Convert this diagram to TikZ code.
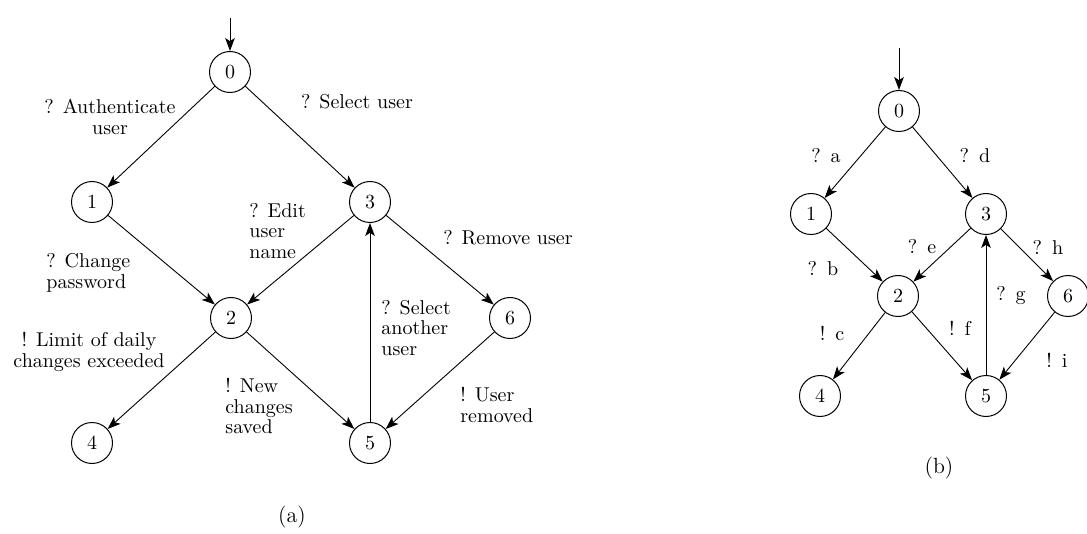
\documentclass[tikz,border=0pt]{standalone}
\usetikzlibrary{arrows.meta}
\tikzset{
  st/.style={circle,draw,line width=0.5pt,minimum size=20.5pt,inner sep=0pt,font=\fontsize{10}{12}\selectfont},
  tr/.style={-{Stealth[length=6.5pt,width=4.8pt,inset=1.6pt]},line width=0.45pt},
  lab/.style={inner sep=0pt,font=\fontsize{10}{10.4}\selectfont},
  labl/.style={lab,align=left,anchor=west},
  labc/.style={lab,align=center},
  captext/.style={inner sep=0pt,font=\fontsize{11}{12}\selectfont}
}
\begin{document}
\begin{tikzpicture}[x=0.5pt,y=-0.5pt]
\useasboundingbox (0,0) rectangle (1087,534);
% ---------- (a) ----------
\coordinate (ai) at (230,18);
\node[st] (a0) at (230,72) {0};
\node[st] (a1) at (92,202) {1};
\node[st] (a3) at (370,202) {3};
\node[st] (a2) at (231,318) {2};
\node[st] (a6) at (510,318) {6};
\node[st] (a4) at (92,443) {4};
\node[st] (a5) at (370,443) {5};
\draw[tr] (ai) -- (a0);
\draw[tr] (a0) -- (a1);
\draw[tr] (a0) -- (a3);
\draw[tr] (a1) -- (a2);
\draw[tr] (a3) -- (a2);
\draw[tr] (a3) -- (a6);
\draw[tr] (a2) -- (a4);
\draw[tr] (a2) -- (a5);
\draw[tr] (a5) -- (a3);
\draw[tr] (a6) -- (a5);
\node[labc] (la01) at (110,117) {? Authenticate\\user};
\node[labc] (la03) at (357,102) {? Select user};
\node[labl] (la32) at (249,231) {? Edit\\user\\name};
\node[labc] (la36) at (508,238) {? Remove user};
\node[labl] (la12) at (46,273) {? Change\\password};
\node[labc] (la24) at (89,352) {! Limit of daily\\changes exceeded};
\node[labl] (la25) at (225,406) {! New\\changes\\saved};
\node[labl] (la53) at (381,328) {? Select\\another\\user};
\node[labl] (la65) at (460,405) {! User\\removed};
\node[captext] (capa) at (292,517) {(a)};
% ---------- (b) ----------
\coordinate (bi) at (899,48);
\node[st] (b0) at (899,111) {0};
\node[st] (b1) at (811,214) {1};
\node[st] (b3) at (986,214) {3};
\node[st] (b2) at (898,296) {2};
\node[st] (b6) at (1068,296) {6};
\node[st] (b4) at (820,396) {4};
\node[st] (b5) at (986,396) {5};
\draw[tr] (bi) -- (b0);
\draw[tr] (b0) -- (b1);
\draw[tr] (b0) -- (b3);
\draw[tr] (b1) -- (b2);
\draw[tr] (b3) -- (b2);
\draw[tr] (b3) -- (b6);
\draw[tr] (b2) -- (b4);
\draw[tr] (b2) -- (b5);
\draw[tr] (b5) -- (b3);
\draw[tr] (b6) -- (b5);
\node[labc] (lba) at (826,156) {?\ \,a};
\node[labc] (lbd) at (975,156) {?\ \,d};
\node[labc] (lbe) at (922,247) {?\ \,e};
\node[labc] (lbh) at (1048,247) {?\ \,h};
\node[labc] (lbb) at (823,269) {?\ \,b};
\node[labc] (lbg) at (1011,296) {?\ \,g};
\node[labc] (lbc) at (832,333) {!\ \,c};
\node[labc] (lbf) at (960,328) {!\ \,f};
\node[labc] (lbi) at (1057,360) {!\ \,i};
\node[captext] (capb) at (939,468) {(b)};
\end{tikzpicture}
\end{document}
